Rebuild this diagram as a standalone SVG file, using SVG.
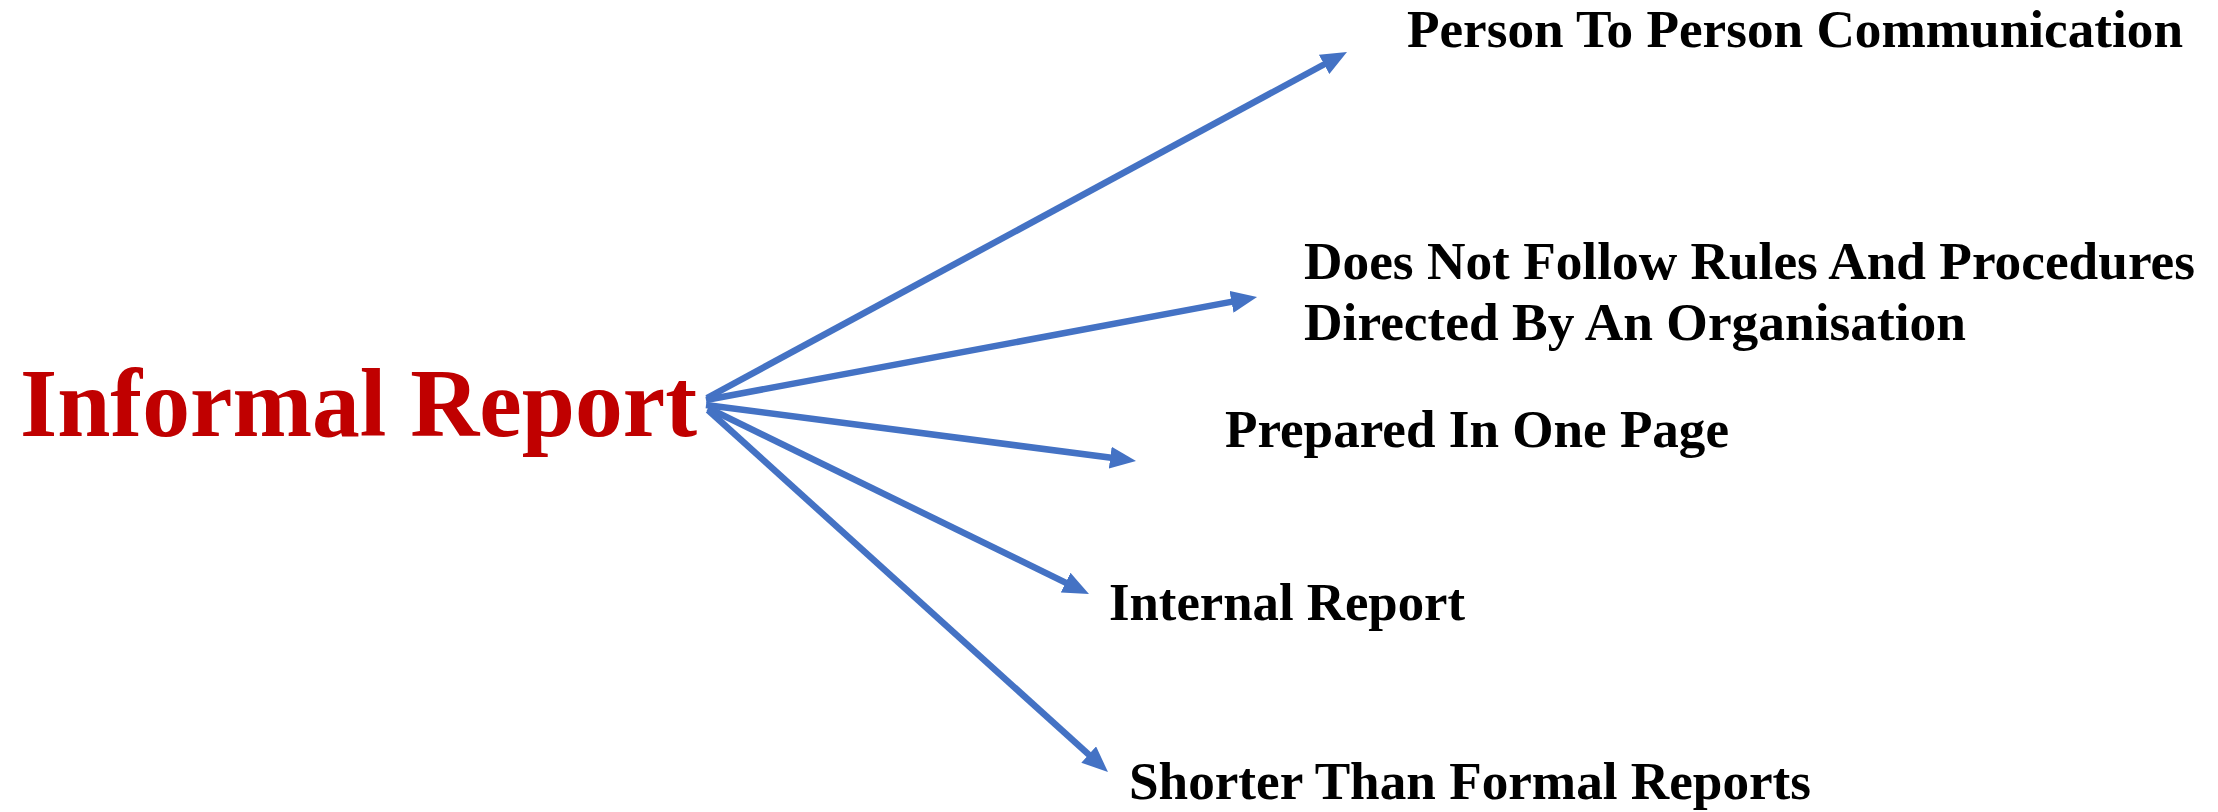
<svg xmlns="http://www.w3.org/2000/svg" width="2218" height="812" viewBox="0 0 2218 812">
<style>
.lbl{font-family:"Liberation Serif","Times New Roman",serif;font-weight:bold;fill:#000;font-size:53px}
.title{font-family:"Liberation Serif","Times New Roman",serif;font-weight:bold;fill:#C00000;font-size:98px}
.con{stroke:#4472C4;stroke-width:6.5;fill:none;marker-end:url(#ah)}
</style>
<defs>
<marker id="ah" markerUnits="userSpaceOnUse" viewBox="0 0 26 22" markerWidth="26" markerHeight="22" refX="5" refY="11" orient="auto">
<path d="M0,0 L26,11 L0,22 z" fill="#4472C4"/>
</marker>
</defs>
<rect width="2218" height="812" fill="#fff"/>
<g id="connectors">
<line class="con" x1="707" y1="398" x2="1328.5" y2="62"/>
<line class="con" x1="706" y1="400" x2="1236.4" y2="300.9"/>
<line class="con" x1="706" y1="405" x2="1115.2" y2="458.3"/>
<line class="con" x1="708" y1="408" x2="1070.1" y2="584.8"/>
<line class="con" x1="708" y1="410" x2="1092.4" y2="757.9"/>
</g>
<g id="node-informal-report">
<text class="title" x="20" y="436" textLength="677" lengthAdjust="spacingAndGlyphs">Informal Report</text>
</g>
<g id="node-person">
<text class="lbl" x="1407" y="47" textLength="776" lengthAdjust="spacingAndGlyphs">Person To Person Communication</text>
</g>
<g id="node-rules">
<text class="lbl" x="1304" y="279" textLength="891" lengthAdjust="spacingAndGlyphs">Does Not Follow Rules And Procedures</text>
<text class="lbl" x="1304" y="340" textLength="662" lengthAdjust="spacingAndGlyphs">Directed By An Organisation</text>
</g>
<g id="node-one-page">
<text class="lbl" x="1225" y="447" textLength="504" lengthAdjust="spacingAndGlyphs">Prepared In One Page</text>
</g>
<g id="node-internal">
<text class="lbl" x="1109" y="620" textLength="356" lengthAdjust="spacingAndGlyphs">Internal Report</text>
</g>
<g id="node-shorter">
<text class="lbl" x="1129" y="799" textLength="682" lengthAdjust="spacingAndGlyphs">Shorter Than Formal Reports</text>
</g>
</svg>
